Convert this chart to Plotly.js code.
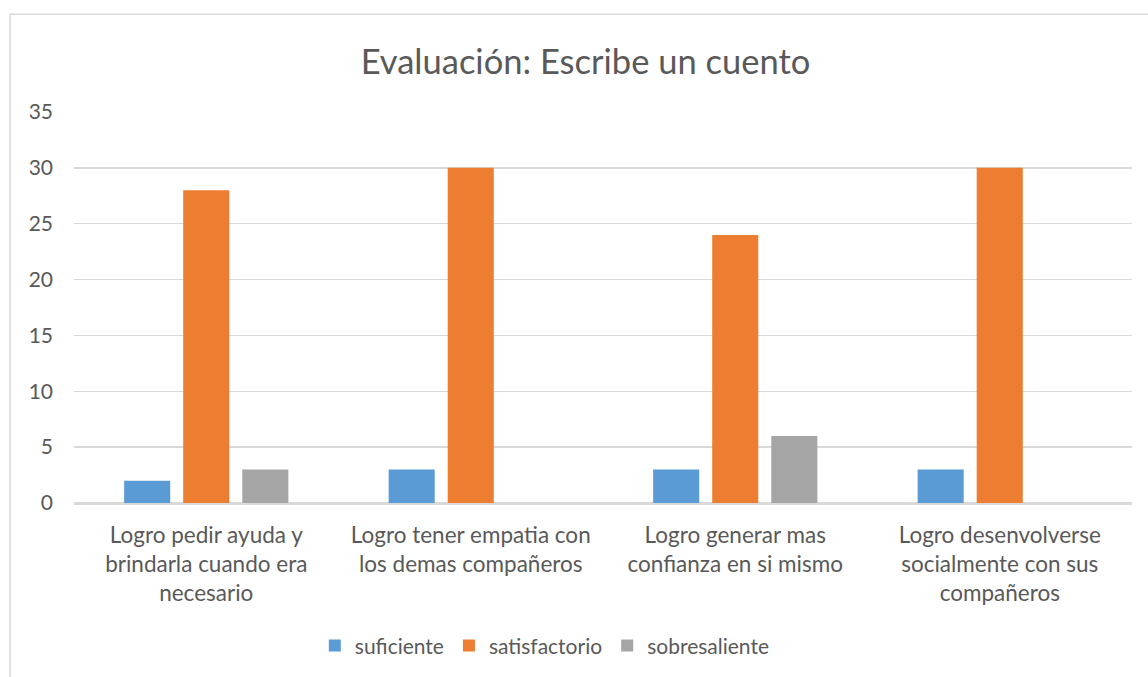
<!DOCTYPE html>
<html>
<head>
<meta charset="utf-8">
<script src="https://cdn.plot.ly/plotly-3.0.1.min.js"></script>
<style>html,body{margin:0;padding:0;background:#fff;}#chart{width:1148px;height:677px;}</style>
</head>
<body>
<div id="chart"></div>
<script>
const categories = [
  "Logro pedir ayuda y<br>brindarla cuando era<br>necesario",
  "Logro tener empatia con<br>los demas compañeros",
  "Logro generar mas<br>confianza en si mismo",
  "Logro desenvolverse<br>socialmente con sus<br>compañeros"
];
const suficiente = [2, 3, 3, 3];
const satisfactorio = [28, 30, 24, 30];
const sobresaliente = [3, 0, 6, 0];
const yTicks = [0, 5, 10, 15, 20, 25, 30, 35];

const font = "Lato, 'Open Sans', sans-serif";
const txt = "#595959";

const data = [
  {type: "bar", name: "suficiente", x: categories, y: suficiente, marker: {color: "#5B9BD5"}},
  {type: "bar", name: "satisfactorio", x: categories, y: satisfactorio, marker: {color: "#ED7D31"}},
  {type: "bar", name: "sobresaliente", x: categories, y: sobresaliente, marker: {color: "#A5A5A5"}}
];

const layout = {
  width: 1148, height: 677,
  margin: {l: 74, r: 16, t: 112, b: 173},
  paper_bgcolor: "#fff", plot_bgcolor: "#fff",
  font: {family: font, color: txt, size: 19},
  title: {text: "Evaluación: Escribe un cuento", font: {family: font, size: 34.5, color: txt}, x: 0.51, xanchor: "center", y: 0.908, yanchor: "middle"},
  barmode: "group",
  bargap: 0.33,
  bargroupgap: 0.22,
  xaxis: {
    type: "category",
    showgrid: false, showline: true, linecolor: "#d9d9d9", linewidth: 1.5,
    ticks: "", tickfont: {family: font, size: 22.5, color: txt},
    ticklabelstandoff: 11
  },
  yaxis: {
    range: [0, 35], tickvals: yTicks, ticktext: yTicks.map(String),
    showgrid: true, gridcolor: "#d9d9d9", gridwidth: 1.5,
    zeroline: true, zerolinecolor: "#d9d9d9", zerolinewidth: 1.5,
    showline: false, ticks: "", tickfont: {family: font, size: 21, color: txt},
    ticklabelstandoff: 20
  },
  legend: {orientation: "h", x: 0.445, xanchor: "center", y: -0.362, yanchor: "middle",
    font: {family: font, size: 21, color: txt}, itemwidth: 30, traceorder: "normal"},
  shapes: [{type: "rect", xref: "paper", yref: "paper",
    x0: (10 - 74) / 1058, x1: 1.2, y0: -0.6, y1: (504 - 14) / 392,
    line: {color: "#d9d9d9", width: 1.5}, fillcolor: "rgba(0,0,0,0)", layer: "below"}]
};

Plotly.newPlot("chart", data, layout, {displayModeBar: false, staticPlot: true});
</script>
</body>
</html>
